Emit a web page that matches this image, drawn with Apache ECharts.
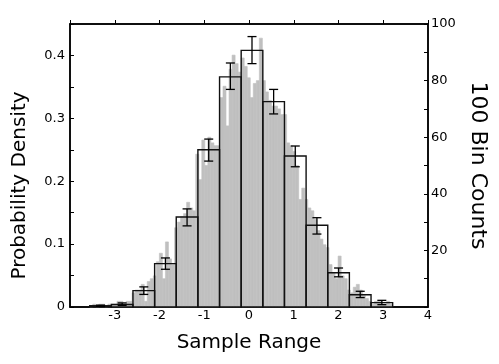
<!DOCTYPE html>
<html>
<head>
<meta charset="utf-8">
<script src="https://cdn.jsdelivr.net/npm/echarts@6/dist/echarts.min.js"></script>
<style>
html, body { margin: 0; padding: 0; background: #fff; }
#chart { width: 499px; height: 364px; }
</style>
</head>
<body>
<div id="chart"></div>
<script>
// wide histogram: lower edges of the 14 bins (width 0.4836), last upper edge
const binEdges = [-3.56, -3.076, -2.593, -2.109, -1.626, -1.142, -0.658, -0.175, 0.309, 0.792, 1.276, 1.760, 2.243, 2.727, 3.21]
const density = [0.002, 0.004, 0.026, 0.069, 0.143, 0.250, 0.366, 0.408, 0.3265, 0.240, 0.130, 0.0545, 0.0195, 0.007]
const errHigh = [0.003, 0.0065, 0.032, 0.078, 0.156, 0.267, 0.388, 0.430, 0.346, 0.256, 0.142, 0.062, 0.025, 0.0106]
const errLow = [0.001, 0.0025, 0.020, 0.060, 0.129, 0.232, 0.346, 0.387, 0.307, 0.223, 0.116, 0.048, 0.015, 0.0037]

// fine histogram: 100 bins over the same range, counts on the right axis
const fineMin = -3.56
const fineMax = 3.21
const fineCounts = [
    0, 1, 0, 1, 1, 0, 1,
    1, 1, 2, 2, 1, 2, 2,
    5, 6, 6, 8, 2, 9, 10,
    11, 16, 19, 10, 23, 17, 15,
    28, 30, 32, 33, 37, 35, 34,
    54, 45, 59, 50, 60, 58, 57, 57,
    74, 78, 64, 84, 89, 86, 83,
    88, 85, 81, 74, 79, 80, 95,
    80, 76, 73, 71, 71, 70, 68, 68,
    58, 57, 55, 50, 38, 42, 38,
    35, 34, 31, 27, 24, 22, 21,
    15, 12, 10, 18, 11, 10, 6,
    5, 7, 8, 6, 4, 3, 2,
    1, 2, 2, 1, 1, 2, 1
]

const xTicks = [-4, -3, -2, -1, 0, 1, 2, 3, 4]

const font = 'DejaVu Sans'
const fineStep = (fineMax - fineMin) / fineCounts.length
const fineData = fineCounts.map((c, i) => [fineMin + i * fineStep, fineMin + (i + 1) * fineStep, c])
const wideData = density.map((d, i) => [binEdges[i], binEdges[i + 1], d])
const errData = density.map((d, i) => [(binEdges[i] + binEdges[i + 1]) / 2, errLow[i], errHigh[i]])

function rectItem(params, api, style) {
    let p0 = api.coord([api.value(0), api.value(2)])
    let p1 = api.coord([api.value(1), 0])
    return {
        type: 'rect',
        shape: { x: p0[0], y: p0[1], width: p1[0] - p0[0], height: p1[1] - p0[1] },
        style: style
    }
}

let chart = echarts.init(document.getElementById('chart'))
let axisLine = { show: true, onZero: false, lineStyle: { color: '#000', width: 1.5 } }
let inTick = { show: true, inside: true, length: 4, lineStyle: { color: '#000', width: 1 } }
let option = {
    animation: false,
    grid: { left: 70, right: 71, top: 24, bottom: 57, show: true, borderColor: '#000', borderWidth: 1.5 },
    xAxis: [{
        type: 'value',
        position: 'bottom',
        min: -4, max: 4, interval: 1,
        name: 'Sample Range',
        nameLocation: 'middle',
        nameGap: 26,
        nameTextStyle: { fontFamily: font, fontSize: 20, color: '#000' },
        axisLine: axisLine,
        axisTick: { show: false },
        splitLine: { show: false },
        axisLabel: {
            fontFamily: font, fontSize: 13, color: '#000', margin: 2,
            formatter: v => xTicks.indexOf(v) > 0 ? String(v) : ''
        }
    }, {
        type: 'value',
        position: 'top',
        min: -4, max: 4, interval: 1,
        axisLine: axisLine,
        // inward ticks on the top edge
        axisTick: { show: true, inside: true, length: -4, lineStyle: { color: '#000', width: 1 } },
        axisLabel: { show: false },
        splitLine: { show: false }
    }],
    yAxis: [{
        type: 'value',
        position: 'left',
        min: 0, max: 0.45, interval: 0.05,
        name: 'Probability Density',
        nameLocation: 'middle',
        nameGap: 40,
        nameTextStyle: { fontFamily: font, fontSize: 20, color: '#000', padding: [0, 40, 0, 0] },
        axisLine: axisLine,
        axisTick: inTick,
        splitLine: { show: false },
        axisLabel: {
            fontFamily: font, fontSize: 13, color: '#000', margin: 5,
            formatter: v => {
                let k = Math.round(v * 100)
                if (k % 10 !== 0) return ''
                return k === 0 ? '0' : (k / 100).toFixed(1)
            }
        }
    }, {
        type: 'value',
        position: 'right',
        min: 0, max: 100, interval: 10,
        name: '100 Bin Counts',
        nameLocation: 'middle',
        nameRotate: -90,
        nameGap: 26,
        nameTextStyle: { fontFamily: font, fontSize: 22, color: '#000' },
        axisLine: axisLine,
        axisTick: inTick,
        splitLine: { show: false },
        axisLabel: {
            fontFamily: font, fontSize: 13, color: '#000', margin: 3,
            formatter: v => (v > 0 && v % 20 === 0) ? String(v) : ''
        }
    }],
    series: [{
        type: 'custom',
        name: 'fine',
        xAxisIndex: 0,
        yAxisIndex: 1,
        encode: { x: [0, 1], y: 2 },
        data: fineData,
        renderItem: (params, api) => rectItem(params, api, { fill: '#c0c0c0', stroke: '#c0c0c0', lineWidth: 0.6 })
    }, {
        type: 'custom',
        name: 'wide',
        xAxisIndex: 0,
        yAxisIndex: 0,
        encode: { x: [0, 1], y: 2 },
        data: wideData,
        renderItem: (params, api) => rectItem(params, api, { fill: 'none', stroke: '#111', lineWidth: 1.4 })
    }, {
        type: 'custom',
        name: 'errors',
        xAxisIndex: 1,
        yAxisIndex: 0,
        encode: { x: 0, y: [1, 2] },
        data: errData,
        renderItem: (params, api) => {
            let lo = api.coord([api.value(0), api.value(1)])
            let hi = api.coord([api.value(0), api.value(2)])
            let cap = 4.5
            let st = { stroke: '#000', lineWidth: 1.3 }
            return {
                type: 'group',
                children: [
                    { type: 'line', shape: { x1: lo[0], y1: lo[1], x2: hi[0], y2: hi[1] }, style: st },
                    { type: 'line', shape: { x1: lo[0] - cap, y1: lo[1], x2: lo[0] + cap, y2: lo[1] }, style: st },
                    { type: 'line', shape: { x1: hi[0] - cap, y1: hi[1], x2: hi[0] + cap, y2: hi[1] }, style: st }
                ]
            }
        }
    }]
}
chart.setOption(option)
</script>
</body>
</html>
